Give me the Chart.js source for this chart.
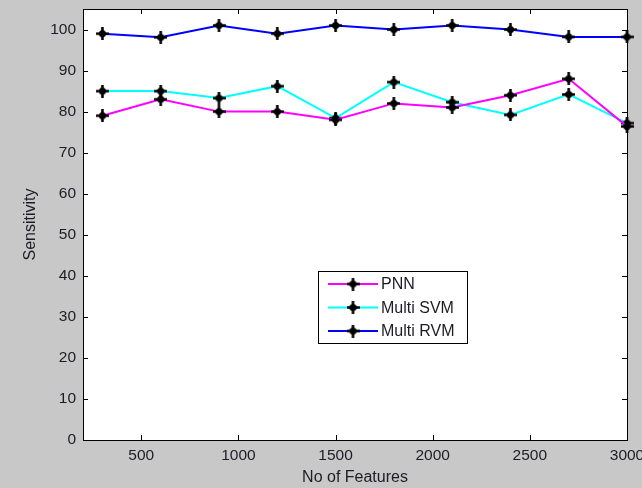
<!DOCTYPE html>
<html>
<head>
<meta charset="utf-8">
<script src="https://cdn.jsdelivr.net/npm/chart.js@4"></script>
<style>
  html, body { margin: 0; padding: 0; background: #c8c8c8; }
  canvas { display: block; }
</style>
</head>
<body>
<canvas id="chart" width="642" height="488"></canvas>
<script>
// Sensitivity against number of selected features
const featureCounts = [300, 600, 900, 1200, 1500, 1800, 2100, 2400, 2700, 3000];
const pnn      = [79, 83, 80, 80, 78, 82, 81, 84, 88, 76.4];
const multiSvm = [85, 85, 83.3, 86.2, 78.4, 87.2, 82.3, 79.2, 84.2, 77.2];
const multiRvm = [99, 98.1, 101, 99, 101, 100, 101, 100, 98.2, 98.2];
const xTicks = [500, 1000, 1500, 2000, 2500, 3000];
const yTicks = [0, 10, 20, 30, 40, 50, 60, 70, 80, 90, 100];

const FONT = 'Arial, "Liberation Sans", sans-serif';
const TEXT = '#1c1c24';

// Thick plus with a round body, used as the marker on every line
function makeMarker() {
  const c = document.createElement('canvas');
  c.width = 13; c.height = 13;
  const g = c.getContext('2d');
  g.fillStyle = '#000';
  g.strokeStyle = '#000';
  g.lineWidth = 2.6;
  g.lineCap = 'round';
  g.beginPath();
  g.moveTo(6.5, 0.8); g.lineTo(6.5, 12.2);
  g.moveTo(0.8, 6.5); g.lineTo(12.2, 6.5);
  g.stroke();
  g.beginPath();
  g.arc(6.5, 6.5, 3.6, 0, Math.PI * 2);
  g.fill();
  return c;
}
const marker = makeMarker();

function series(label, values, color) {
  return {
    label,
    data: featureCounts.map((x, i) => ({ x, y: values[i] })),
    borderColor: color,
    backgroundColor: color,
    borderWidth: 2,
    tension: 0,
    pointStyle: marker,
    pointRadius: 6,
    clip: false
  };
}

// Gray figure, white axes box, frame with inward ticks on all four sides
const framePlugin = {
  id: 'frame',
  beforeDraw(chart) {
    const { ctx, chartArea: a } = chart;
    ctx.save();
    ctx.fillStyle = '#c8c8c8';
    ctx.fillRect(0, 0, chart.width, chart.height);
    ctx.fillStyle = '#ffffff';
    ctx.fillRect(a.left, a.top, a.right - a.left, a.bottom - a.top);
    ctx.restore();
  },
  beforeDatasetsDraw(chart) {
    const { ctx, chartArea: a, scales } = chart;
    const len = 5;
    ctx.save();
    ctx.strokeStyle = '#000';
    ctx.lineWidth = 1;
    ctx.beginPath();
    scales.x.ticks.forEach(t => {
      const px = Math.round(scales.x.getPixelForValue(t.value)) + 0.5;
      ctx.moveTo(px, a.bottom); ctx.lineTo(px, a.bottom - len);
      ctx.moveTo(px, a.top); ctx.lineTo(px, a.top + len);
    });
    scales.y.ticks.forEach(t => {
      const py = Math.round(scales.y.getPixelForValue(t.value)) + 0.5;
      ctx.moveTo(a.left, py); ctx.lineTo(a.left + len, py);
      ctx.moveTo(a.right, py); ctx.lineTo(a.right - len, py);
    });
    ctx.stroke();
    ctx.strokeRect(Math.round(a.left) + 0.5, Math.round(a.top) + 0.5,
                   Math.round(a.right - a.left), Math.round(a.bottom - a.top));
    ctx.restore();
  },
  afterDraw(chart) {
    // Boxed legend inside the axes
    const { ctx } = chart;
    const box = { x: 318.5, y: 271.5, w: 149, h: 72 };
    ctx.save();
    ctx.fillStyle = '#ffffff';
    ctx.fillRect(box.x, box.y, box.w, box.h);
    ctx.strokeStyle = '#000';
    ctx.lineWidth = 1;
    ctx.strokeRect(box.x, box.y, box.w, box.h);
    ctx.font = '16px ' + FONT;
    ctx.textBaseline = 'middle';
    ctx.textAlign = 'left';
    chart.data.datasets.forEach((ds, i) => {
      const y = 284 + i * 23.5;
      ctx.strokeStyle = ds.borderColor;
      ctx.lineWidth = 2;
      ctx.beginPath();
      ctx.moveTo(328, y); ctx.lineTo(378, y);
      ctx.stroke();
      ctx.drawImage(marker, 353 - 6.5, y - 6.5);
      ctx.fillStyle = TEXT;
      ctx.fillText(ds.label, 381, y + 1);
    });
    ctx.restore();
  }
};

new Chart(document.getElementById('chart'), {
  type: 'line',
  data: {
    datasets: [
      series('PNN', pnn, '#ff00ff'),
      series('Multi SVM', multiSvm, '#00ffff'),
      series('Multi RVM', multiRvm, '#0000ff')
    ]
  },
  options: {
    responsive: false,
    animation: false,
    devicePixelRatio: 1,
    layout: { padding: { top: 9, right: 15, left: 0, bottom: 0 } },
    plugins: { legend: { display: false }, tooltip: { enabled: false } },
    scales: {
      x: {
        type: 'linear',
        min: 200,
        max: 3000,
        afterBuildTicks: s => { s.ticks = xTicks.map(v => ({ value: v })); },
        afterFit: s => { s.height = 48; s.paddingLeft = 0; s.paddingRight = 0; },
        grid: { display: false, drawTicks: false },
        border: { display: false },
        ticks: {
          callback: v => String(v),
          font: { family: FONT, size: 15.5 },
          color: TEXT,
          padding: 6,
          maxRotation: 0,
          autoSkip: false
        },
        title: {
          display: true,
          text: 'No of Features',
          font: { family: FONT, size: 16 },
          color: TEXT,
          padding: { top: 0, bottom: 1 }
        }
      },
      y: {
        type: 'linear',
        min: 0,
        max: 105,
        afterBuildTicks: s => { s.ticks = yTicks.map(v => ({ value: v })); },
        afterFit: s => { s.width = 83; s.paddingTop = 0; s.paddingBottom = 0; },
        grid: { display: false, drawTicks: false },
        border: { display: false },
        ticks: {
          callback: v => String(v),
          font: { family: FONT, size: 15.5 },
          color: TEXT,
          padding: 7
        },
        title: {
          display: true,
          text: 'Sensitivity',
          font: { family: FONT, size: 16 },
          color: TEXT,
          padding: { top: 21, bottom: 0 }
        }
      }
    }
  },
  plugins: [framePlugin]
});
</script>
</body>
</html>
